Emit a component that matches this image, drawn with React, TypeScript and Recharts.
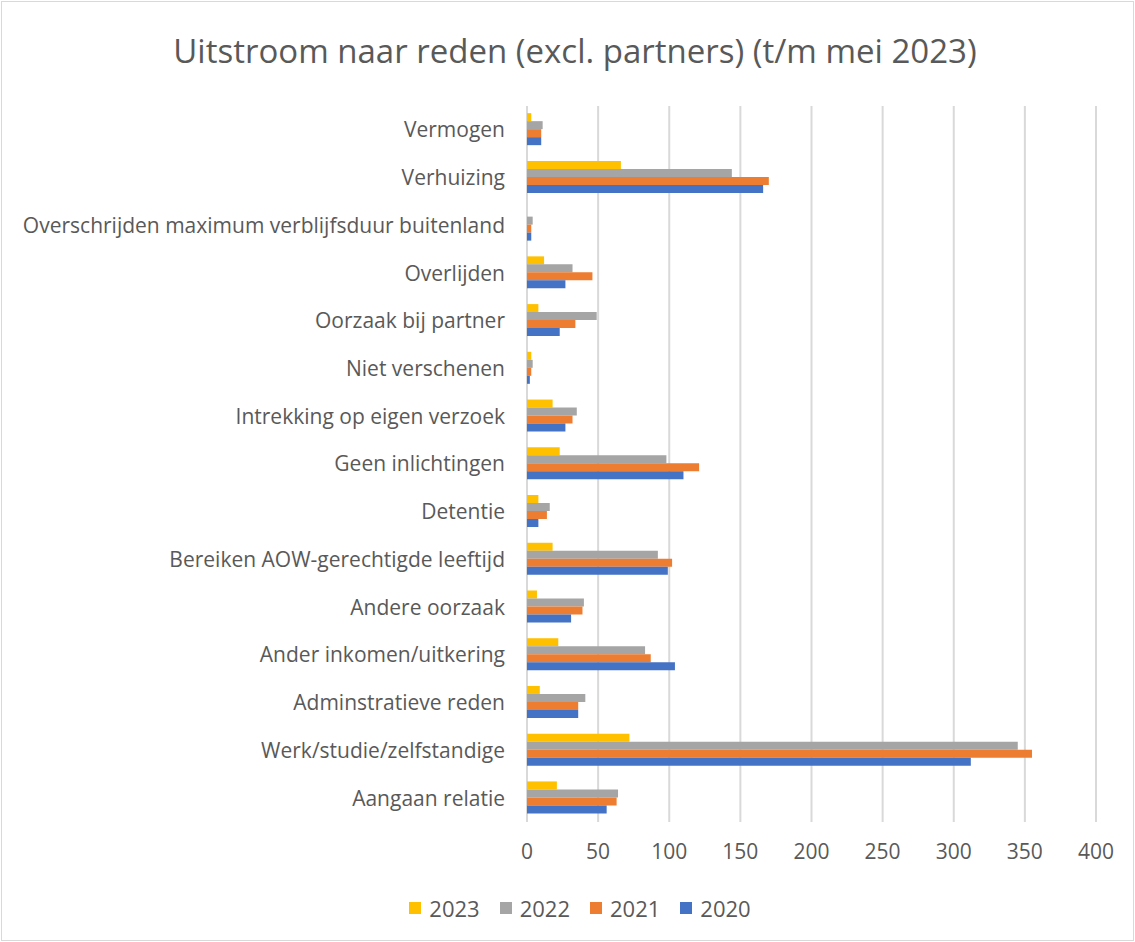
import React from "react";
import { BarChart, Bar, XAxis, YAxis, CartesianGrid, Legend } from "recharts";

const categories = [
  "Vermogen",
  "Verhuizing",
  "Overschrijden maximum verblijfsduur buitenland",
  "Overlijden",
  "Oorzaak bij partner",
  "Niet verschenen",
  "Intrekking op eigen verzoek",
  "Geen inlichtingen",
  "Detentie",
  "Bereiken AOW-gerechtigde leeftijd",
  "Andere oorzaak",
  "Ander inkomen/uitkering",
  "Adminstratieve reden",
  "Werk/studie/zelfstandige",
  "Aangaan relatie",
];

const v2023 = [3, 66, 0, 12, 8, 3, 18, 23, 8, 18, 7, 22, 9, 72, 21];
const v2022 = [11, 144, 4, 32, 49, 4, 35, 98, 16, 92, 40, 83, 41, 345, 64];
const v2021 = [10, 170, 3, 46, 34, 3, 32, 121, 14, 102, 39, 87, 36, 355, 63];
const v2020 = [10, 166, 3, 27, 23, 2, 27, 110, 8, 99, 31, 104, 36, 312, 56];

const xTicks = [0, 50, 100, 150, 200, 250, 300, 350, 400];

const series = [
  { key: "2023", color: "#FFC000" },
  { key: "2022", color: "#A5A5A5" },
  { key: "2021", color: "#ED7D31" },
  { key: "2020", color: "#4472C4" },
];

const data = categories.map((name, i) => ({
  name,
  "2023": v2023[i],
  "2022": v2022[i],
  "2021": v2021[i],
  "2020": v2020[i],
}));

const FONT = "'Open Sans', sans-serif";
const TEXT = "#595959";

function LegendRow() {
  return (
    <div
      style={{
        display: "flex",
        justifyContent: "center",
        gap: 20,
        fontFamily: FONT,
        fontSize: 22,
        lineHeight: "30px",
        color: TEXT,
      }}
    >
      {series.map((s) => (
        <div key={s.key} style={{ display: "flex", alignItems: "center" }}>
          <span style={{ width: 12, height: 12, background: s.color, marginRight: 8, display: "inline-block" }} />
          {s.key}
        </div>
      ))}
    </div>
  );
}

export default function App() {
  return (
    <div style={{ position: "absolute", left: 0, top: 0, width: 1135, height: 942, background: "#fff" }}>
      <div
        style={{
          position: "absolute",
          left: 1,
          top: 1,
          width: 1131,
          height: 938,
          border: "1px solid #d9d9d9",
        }}
      />
      <div
        style={{
          position: "absolute",
          top: 28,
          left: 0,
          width: 1150,
          textAlign: "center",
          fontFamily: FONT,
          fontSize: 33,
          color: TEXT,
        }}
      >
        Uitstroom naar reden (excl. partners) (t/m mei 2023)
      </div>
      <BarChart
        width={1135}
        height={942}
        layout="vertical"
        data={data}
        margin={{ top: 106, right: 39, bottom: 70, left: 0 }}
        barCategoryGap="15%"
        barGap={0}
      >
        <CartesianGrid horizontal={false} stroke="#d9d9d9" strokeWidth={2} />
        <XAxis
          type="number"
          domain={[0, 400]}
          ticks={xTicks}
          axisLine={false}
          tickLine={false}
          height={50}
          tickMargin={16}
          tick={{ fontSize: 21, fill: TEXT, fontFamily: FONT }}
        />
        <YAxis
          type="category"
          dataKey="name"
          width={527}
          axisLine={false}
          tickLine={false}
          tickMargin={16}
          interval={0}
          tick={{ fontSize: 21, fill: TEXT, fontFamily: FONT }}
        />
        <Legend
          layout="horizontal"
          verticalAlign="middle"
          align="center"
          wrapperStyle={{ top: 893, left: 0, width: 1160 }}
          content={() => <LegendRow />}
        />
        {series.map((s) => (
          <Bar key={s.key} dataKey={s.key} fill={s.color} isAnimationActive={false} />
        ))}
      </BarChart>
    </div>
  );
}
